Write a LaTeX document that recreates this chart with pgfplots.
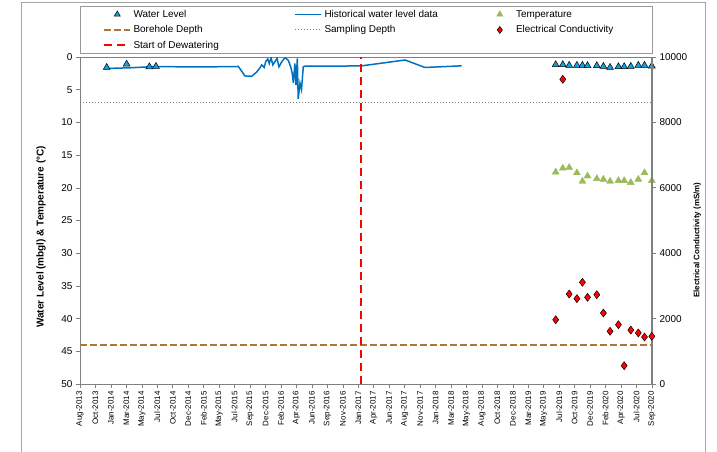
\documentclass[border=0pt]{standalone}
\usepackage{pgfplots}
\pgfplotsset{compat=1.18}
\usepackage{fontspec}
\setmainfont{Liberation Sans}
\definecolor{histblue}{RGB}{0,112,192}
\definecolor{wlfill}{RGB}{20,160,220}
\definecolor{tempgreen}{RGB}{155,187,89}
\definecolor{bhbrown}{RGB}{170,120,60}
\definecolor{axgray}{RGB}{128,128,128}
\definecolor{dewred}{RGB}{255,0,0}

\pgfplotstableread{
day wl
121 1.75
226 1.65
344 1.45
453 1.50
600 1.50
717 1.45
747 2.90
777 2.95
800 2.30
815 1.65
823 1.20
834 1.60
841 0.70
850 0.30
857 1.00
865 0.10
873 1.20
883 0.70
892 0.20
901 1.50
913 0.75
928 0.10
943 0.50
954 1.50
961 2.50
966 4.00
973 1.00
978 4.30
984 0.20
988 6.40
996 4.00
1003 5.00
1011 1.50
1019 1.40
1150 1.40
1276 1.35
1472 0.46
1562 1.60
1728 1.35
}\histdata

\pgfplotstableread{
day wl
121 1.60
211 1.10
314 1.50
344 1.45
2154 1.18
2186 1.18
2215 1.28
2250 1.28
2275 1.28
2298 1.33
2340 1.33
2370 1.44
2400 1.60
2438 1.49
2464 1.49
2494 1.44
2528 1.28
2556 1.28
2589 1.38
}\wldata

\pgfplotstableread{
day temp ec
2154 17.6 1966
2186 17.0 9318
2215 16.9 2752
2250 17.7 2609
2275 19.0 3110
2298 18.2 2651
2340 18.6 2731
2370 18.7 2171
2400 19.0 1612
2438 18.9 1814
2464 18.9 560
2494 19.2 1651
2528 18.7 1560
2556 17.7 1437
2589 18.9 1459
}\sampledata

\begin{document}
\begin{tikzpicture}
\path[use as bounding box] (0,0) rectangle (717bp,452bp);
\draw[axgray!70, line width=0.6bp] (21bp,-5bp) rectangle (705bp,450bp);

\begin{axis}[
  scale only axis, width=572bp, height=327bp,
  at={(80bp,68bp)}, anchor=south west,
  xmin=0, xmax=2590, ymin=0, ymax=50, y dir=reverse,
  xtick={0,70,...,2590},
  xticklabels={Aug-2013,Oct-2013,Jan-2014,Mar-2014,May-2014,Jul-2014,Oct-2014,Dec-2014,Feb-2015,May-2015,Jul-2015,Sep-2015,Dec-2015,Feb-2016,Apr-2016,Jun-2016,Sep-2016,Nov-2016,Jan-2017,Apr-2017,Jun-2017,Aug-2017,Nov-2017,Jan-2018,Mar-2018,May-2018,Aug-2018,Oct-2018,Dec-2018,Mar-2019,May-2019,Jul-2019,Oct-2019,Dec-2019,Feb-2020,Apr-2020,Jul-2020,Sep-2020},
  ytick={0,5,...,50},
  xtick pos=lower, xticklabel pos=lower,
  ytick pos=left,
  tick align=outside,
  major tick length=4bp,
  every tick/.style={axgray, line width=0.6bp},
  axis line style={axgray, line width=0.8bp},
  x tick label style={rotate=90, anchor=east, font=\fontsize{8}{9.6}\selectfont},
  y tick label style={font=\fontsize{10}{12}\selectfont},
  /pgf/number format/assume math mode=true,
  ylabel={Water Level (mbgl) \& Temperature (°C)},
  ylabel style={at={(axis description cs:-0.068,0.45)}, anchor=center, font=\bfseries\fontsize{10}{12}\selectfont},
]
\addplot[bhbrown, line width=2.5bp, dash pattern=on 7bp off 3bp] coordinates {(0,44) (2590,44)};
\addplot[axgray, line width=1bp, dash pattern=on 1bp off 2bp] coordinates {(0,7) (2590,7)};
\addplot[histblue, line width=1.5bp] table[x=day, y=wl] {\histdata};
\addplot[only marks, mark=triangle*, mark size=4bp, mark options={fill=wlfill, draw=black, line width=0.5bp}] table[x=day, y=wl] {\wldata};
\addplot[only marks, mark=triangle*, mark size=4bp, mark options={fill=tempgreen, draw=tempgreen}] table[x=day, y=temp] {\sampledata};
\end{axis}

\begin{axis}[
  scale only axis, width=572bp, height=327bp,
  at={(80bp,68bp)}, anchor=south west,
  xmin=0, xmax=2590, ymin=0, ymax=10000,
  axis x line=none, axis y line*=right,
  ytick={0,2000,...,10000},
  scaled y ticks=false,
  /pgf/number format/1000 sep={},
  /pgf/number format/assume math mode=true,
  tick align=outside,
  major tick length=4bp,
  every tick/.style={axgray, line width=0.6bp},
  axis line style={axgray, line width=1.5bp},
  y tick label style={font=\fontsize{10}{12}\selectfont},
  ylabel={Electrical Conductivity (mS/m)},
  ylabel style={at={(axis description cs:1.079,0.44)}, anchor=center, font=\bfseries\fontsize{8}{10}\selectfont},
  legend columns=3,
  legend cell align=left,
  legend image code/.code={\path[draw=none,fill=none] (-1.25bp,-3bp) rectangle (27.25bp,3bp);\draw[mark repeat=2,mark phase=2,#1] plot coordinates {(0bp,0bp) (13bp,0bp) (26bp,0bp)};},
  legend style={at={(axis description cs:0,1)}, anchor=south west, yshift=3bp,
    draw=axgray!80, line width=0.6bp, inner xsep=22.75bp, inner ysep=0.5bp,
    font=\fontsize{10}{12}\selectfont, row sep=0bp,
    nodes={inner xsep=0bp, inner ysep=3bp, text height=7.5bp, text depth=2bp},
    /tikz/every odd column/.append style={column sep=2bp}},
]
\addplot[only marks, mark=diamond*, mark size=4bp, mark options={fill=red, draw=black, line width=0.5bp}, forget plot] table[x=day, y=ec] {\sampledata};

\addlegendimage{only marks, mark=triangle*, mark size=3.5bp, mark options={fill=wlfill, draw=black, line width=0.5bp}}
\addlegendentry{\makebox[160.5bp][l]{Water Level}}
\addlegendimage{histblue, line width=1.5bp}
\addlegendentry{\makebox[161bp][l]{Historical water level data}}
\addlegendimage{only marks, mark=triangle*, mark size=3.5bp, mark options={fill=tempgreen, draw=tempgreen}}
\addlegendentry{\makebox[113.5bp][l]{Temperature}}
\addlegendimage{bhbrown, line width=2.5bp, dash pattern=on 7bp off 3bp}
\addlegendentry{Borehole Depth}
\addlegendimage{axgray, line width=1bp, dash pattern=on 1bp off 2bp}
\addlegendentry{Sampling Depth}
\addlegendimage{only marks, mark=diamond*, mark size=3.5bp, mark options={fill=red, draw=black, line width=0.5bp}}
\addlegendentry{Electrical Conductivity}
\addplot[dewred, line width=2bp, dash pattern=on 8bp off 5bp] coordinates {(1272,0) (1272,10000)};
\addlegendentry{Start of Dewatering}
\end{axis}
\end{tikzpicture}
\end{document}
